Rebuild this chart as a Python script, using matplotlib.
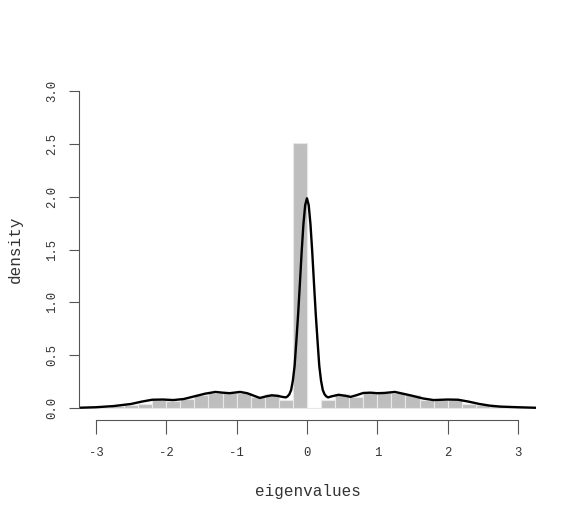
import numpy as np
import matplotlib
matplotlib.use("Agg")
import matplotlib.pyplot as plt

plt.rcParams['font.family'] = ['Liberation Mono', 'DejaVu Sans Mono']
plt.rcParams['axes.unicode_minus'] = False

# histogram of eigenvalues (bin width 0.2, density scale)
bin_edges = np.round(np.arange(-3.2, 3.21, 0.2), 1)
bin_density = [0.0, 0.01, 0.015, 0.03, 0.04, 0.08, 0.07, 0.085,
               0.125, 0.145, 0.14, 0.145, 0.10, 0.13, 0.08, 2.51,
               0.0, 0.08, 0.13, 0.10, 0.145, 0.14, 0.145, 0.12,
               0.08, 0.08, 0.08, 0.04, 0.03, 0.015, 0.01, 0.0]

# kernel density estimate
kde_x = [-3.25, -3.0, -2.75, -2.5, -2.35, -2.2, -2.05, -1.9, -1.75, -1.6,
         -1.45, -1.3, -1.2, -1.1, -0.95, -0.85, -0.75, -0.67, -0.58, -0.5,
         -0.42, -0.35, -0.3, -0.275, -0.25, -0.225, -0.2, -0.175, -0.15,
         -0.125, -0.1, -0.075, -0.05, -0.025, 0.0, 0.025, 0.05, 0.075, 0.1,
         0.125, 0.15, 0.175, 0.2, 0.225, 0.25, 0.275, 0.3, 0.35, 0.45,
         0.55, 0.62, 0.7, 0.8, 0.9, 1.0, 1.1, 1.25, 1.4, 1.5, 1.65, 1.8,
         2.0, 2.15, 2.3, 2.45, 2.6, 2.75, 3.0, 3.25]
kde_y = [0.002, 0.007, 0.018, 0.038, 0.06, 0.078, 0.08, 0.075, 0.085, 0.11,
         0.135, 0.152, 0.145, 0.14, 0.152, 0.14, 0.115, 0.095, 0.11, 0.12,
         0.115, 0.105, 0.10, 0.11, 0.13, 0.17, 0.26, 0.40, 0.64,
         0.89, 1.18, 1.48, 1.74, 1.92, 1.985, 1.92, 1.74, 1.48, 1.18,
         0.89, 0.64, 0.40, 0.26, 0.17, 0.13, 0.11, 0.10, 0.11, 0.125,
         0.115, 0.105, 0.12, 0.142, 0.145, 0.14, 0.142, 0.152, 0.13, 0.115,
         0.09, 0.075, 0.08, 0.078, 0.06, 0.038, 0.022, 0.013, 0.007, 0.002]

fig = plt.figure(figsize=(5.77, 5.19), dpi=100)
ax = fig.add_axes([79 / 577, (519 - 419.5) / 519, (536.3 - 79) / 577, (419.5 - 79.5) / 519])

widths = np.diff(bin_edges)
ax.bar(bin_edges[:-1], bin_density, width=widths, align='edge',
       color='#bebebe', edgecolor='#e8e8e8', linewidth=0.8)
ax.plot(kde_x, kde_y, color='black', lw=1.7)

ax.set_xlim(-3.24, 3.26)
ax.set_ylim(-0.109, 3.109)

for s in ['top', 'right']:
    ax.spines[s].set_visible(False)
ax.spines['left'].set_bounds(0, 3)
ax.spines['bottom'].set_bounds(-3, 3)
for s in ['left', 'bottom']:
    ax.spines[s].set_color('#555555')
    ax.spines[s].set_linewidth(0.8)

ax.set_xticks([-3, -2, -1, 0, 1, 2, 3])
ax.set_yticks([0.0, 0.5, 1.0, 1.5, 2.0, 2.5, 3.0])
ax.set_yticklabels(['0.0', '0.5', '1.0', '1.5', '2.0', '2.5', '3.0'],
                   rotation=90, va='center')
ax.tick_params(axis='x', length=10, width=0.8, color='#555555', pad=10,
               labelsize=8.8, labelcolor='#333333')
ax.tick_params(axis='y', length=7, width=0.8, color='#555555', pad=8,
               labelsize=8.8, labelcolor='#333333')

ax.set_xlabel('eigenvalues', fontsize=11.5, labelpad=18, color='#333333')
ax.set_ylabel('density', fontsize=11.5, labelpad=17, color='#333333')

fig.savefig('out.png', dpi=100)
